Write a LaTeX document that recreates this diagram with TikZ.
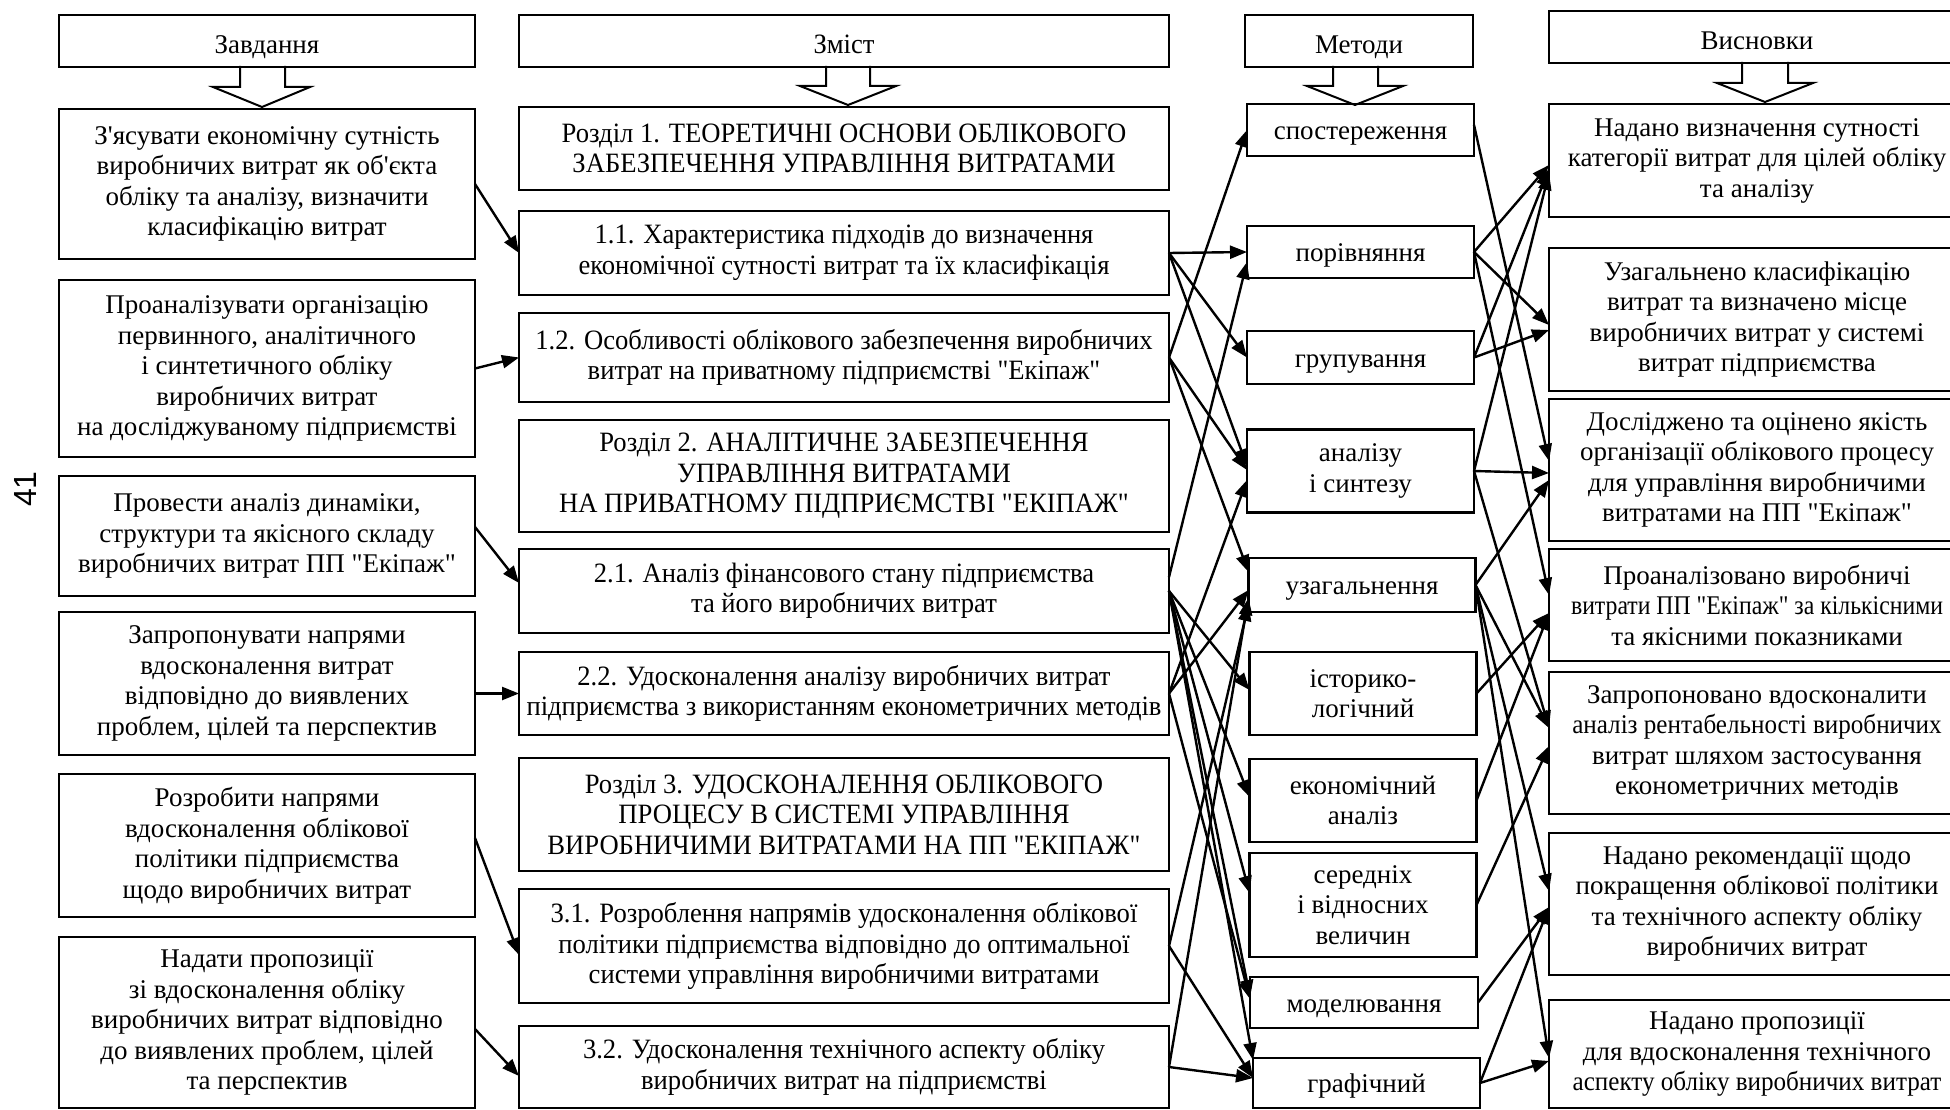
\documentclass[tikz,border=0pt]{standalone}
\usepackage{fontspec}
\setmainfont{Liberation Serif}[Ligatures=TeXOff]
\newfontfamily\condf{Liberation Serif}[FakeStretch=0.95,Ligatures=TeXOff]
\newfontfamily\condg{Liberation Serif}[FakeStretch=0.88,Ligatures=TeXOff]
\newfontfamily\condh{Liberation Serif}[FakeStretch=0.93,Ligatures=TeXOff]
\newfontfamily\numf{Liberation Sans}
\usetikzlibrary{arrows.meta,calc}
\begin{document}
\begin{tikzpicture}[x=1pt,y=-1pt,
  bx/.style={draw,line width=2.2pt,inner sep=0pt,outer sep=0pt,align=center,font=\fontsize{27}{30.5}\selectfont},
  cbx/.style={bx,font=\condf\fontsize{28}{30.5}\selectfont},
  one/.style={text height=23pt,text depth=4pt},
  hdr/.style={text height=26pt,text depth=1pt},
  con/.style={line width=2.4pt,-{Triangle[length=17pt,width=13pt]}},
  hol/.style={draw,line width=2pt,fill=white}]
\useasboundingbox[fill=white] (0,0) rectangle (1950,1110);

% page number
\node[font=\numf\fontsize{32}{32}\selectfont,rotate=90] (pg) at (25,489) {41};

% ---------- left column ----------
\draw[hol] (240,66)--(240,87)--(213,87)--(262,107)--(310,87)--(285,87)--(285,66);
\node[bx,hdr,minimum width=416pt,minimum height=52pt] (hL) at (267,41) {Завдання};
\node[bx,minimum width=416pt,minimum height=150pt] (L1) at (267,184) {З'ясувати економічну сутність\\виробничих витрат як об'єкта\\обліку та аналізу, визначити\\класифікацію витрат};
\node[bx,minimum width=416pt,minimum height=177pt] (L2) at (267,368.5) {Проаналізувати організацію\\первинного, аналітичного\\і синтетичного обліку\\виробничих витрат\\на досліджуваному підприємстві};
\node[bx,minimum width=416pt,minimum height=120pt] (L3) at (267,536) {Провести аналіз динаміки,\\структури та якісного складу\\виробничих витрат ПП "Екіпаж"};
\node[bx,minimum width=416pt,minimum height=143pt] (L4) at (267,683.5) {Запропонувати напрями\\вдосконалення витрат\\відповідно до виявлених\\проблем, цілей та перспектив};
\node[bx,minimum width=416pt,minimum height=143pt] (L5) at (267,845.5) {Розробити напрями\\вдосконалення облікової\\політики підприємства\\щодо виробничих витрат};
\node[bx,minimum width=416pt,minimum height=171pt] (L6) at (267,1022.5) {Надати пропозиції\\зі вдосконалення обліку\\виробничих витрат відповідно\\до виявлених проблем, цілей\\та перспектив};

% ---------- content column ----------
\draw[hol] (826,66)--(826,86)--(800,86)--(848,105)--(896,86)--(870,86)--(870,66);
\node[cbx,hdr,minimum width=650pt,minimum height=52pt] (hC) at (844,41) {Зміст};
\node[cbx,minimum width=650pt,minimum height=83pt] (R1) at (844,148.5) {Розділ 1. ТЕОРЕТИЧНІ ОСНОВИ ОБЛІКОВОГО\\ЗАБЕЗПЕЧЕННЯ УПРАВЛІННЯ ВИТРАТАМИ};
\node[cbx,minimum width=650pt,minimum height=84pt] (c11) at (844,253) {1.1. Характеристика підходів до визначення\\економічної сутності витрат та їх класифікація};
\node[cbx,minimum width=650pt,minimum height=89pt] (c12) at (844,357.5) {1.2. Особливості облікового забезпечення виробничих\\витрат на приватному підприємстві "Екіпаж"};
\node[cbx,minimum width=650pt,minimum height=112pt] (R2) at (844,476) {Розділ 2. АНАЛІТИЧНЕ ЗАБЕЗПЕЧЕННЯ\\УПРАВЛІННЯ ВИТРАТАМИ\\НА ПРИВАТНОМУ ПІДПРИЄМСТВІ "ЕКІПАЖ"};
\node[cbx,minimum width=650pt,minimum height=84pt] (c21) at (844,591) {2.1. Аналіз фінансового стану підприємства\\та його виробничих витрат};
\node[cbx,minimum width=650pt,minimum height=83pt] (c22) at (844,693.5) {2.2. Удосконалення аналізу виробничих витрат\\підприємства з використанням економетричних методів};
\node[cbx,minimum width=650pt,minimum height=113pt] (R3) at (844,814.5) {Розділ 3. УДОСКОНАЛЕННЯ ОБЛІКОВОГО\\ПРОЦЕСУ В СИСТЕМІ УПРАВЛІННЯ\\ВИРОБНИЧИМИ ВИТРАТАМИ НА ПП "ЕКІПАЖ"};
\node[cbx,minimum width=650pt,minimum height=114pt] (c31) at (844,946) {3.1. Розроблення напрямів удосконалення облікової\\політики підприємства відповідно до оптимальної\\системи управління виробничими витратами};
\node[cbx,minimum width=650pt,minimum height=82pt] (c32) at (844,1067) {3.2. Удосконалення технічного аспекту обліку\\виробничих витрат на підприємстві};

% ---------- methods column ----------
\draw[hol] (1333,66)--(1333,86)--(1307,86)--(1355,105)--(1403,86)--(1378,86)--(1378,66);
\node[bx,hdr,minimum width=228pt,minimum height=52pt] (hM) at (1359,41) {Методи};
\node[bx,one,minimum width=227pt,minimum height=52pt] (m1) at (1360.5,130) {спостереження};
\node[bx,one,minimum width=227pt,minimum height=52pt] (m2) at (1360.5,252) {порівняння};
\node[bx,one,minimum width=227pt,minimum height=53pt] (m3) at (1360.5,357.5) {групування};
\node[bx,minimum width=227pt,minimum height=83pt] (m4) at (1360.5,471) {аналізу\\і синтезу};
\node[bx,one,minimum width=227pt,minimum height=54pt] (m5) at (1362,585) {узагальнення};
\node[bx,minimum width=227pt,minimum height=83pt] (m6) at (1363,693.5) {історико-\\логічний};
\node[bx,minimum width=227pt,minimum height=83pt] (m7) at (1363,800.5) {економічний\\аналіз};
\node[bx,minimum width=227pt,minimum height=104pt] (m8) at (1363,905) {середніх\\і відносних\\величин};
\node[bx,one,minimum width=228pt,minimum height=51pt] (m9) at (1364,1002.5) {моделювання};
\node[bx,one,minimum width=227pt,minimum height=50pt] (m10) at (1366.5,1083) {графічний};

% ---------- conclusions column ----------
\draw[hol] (1742,62)--(1742,83)--(1717,83)--(1765,102)--(1813,83)--(1788,83)--(1788,62);
\node[bx,hdr,minimum width=416pt,minimum height=52pt] (hR) at (1757,37) {Висновки};
\node[bx,minimum width=416pt,minimum height=113pt] (C1) at (1757,160.5) {Надано визначення сутності\\категорії витрат для цілей обліку\\та аналізу};
\node[bx,minimum width=416pt,minimum height=143pt] (C2) at (1757,319.5) {Узагальнено класифікацію\\витрат та визначено місце\\виробничих витрат у системі\\витрат підприємства};
\node[bx,minimum width=416pt,minimum height=142pt] (C3) at (1757,470) {Досліджено та оцінено якість\\організації облікового процесу\\для управління виробничими\\витратами на ПП "Екіпаж"};
\node[bx,minimum width=416pt,minimum height=112pt] (C4) at (1757,605) {Проаналізовано виробничі\\{\condg витрати ПП "Екіпаж" за кількісними}\\та якісними показниками};
\node[bx,minimum width=416pt,minimum height=142pt] (C5) at (1757,743) {Запропоновано вдосконалити\\{\condh аналіз рентабельності виробничих}\\витрат шляхом застосування\\економетричних методів};
\node[bx,minimum width=416pt,minimum height=142pt] (C6) at (1757,904) {Надано рекомендації щодо\\покращення облікової політики\\та технічного аспекту обліку\\виробничих витрат};
\node[bx,minimum width=416pt,minimum height=108pt] (C7) at (1757,1054) {Надано пропозиції\\для вдосконалення технічного\\{\condh аспекту обліку виробничих витрат}};

% ---------- tasks -> content ----------
\draw[con] (L1.east) -- (c11.west);
\draw[con] (L2.east) -- (c12.west);
\draw[con] (L3.east |- 0,527) -- (c21.west |- 0,583);
\draw[con] (L4.east |- c22.west) -- (c22.west);
\draw[con] (L5.east |- 0,838) -- (c31.west |- 0,955);
\draw[con] (L6.east |- 0,1029) -- (c32.west |- 0,1076);

% ---------- content -> methods ----------
\draw[con] (c11.east) -- (m2.west);
\draw[con] (c11.east) -- (m3.west);
\draw[con] (c11.east) -- (m4.west |- 0,466);
\draw[con] (c12.east) -- (m1.west);
\draw[con] (c12.east) -- (m4.west |- 0,470);
\draw[con] (c12.east) -- (m5.west |- 0,572);
\draw[con] (c21.east |- 0,577) -- (m2.west |- 0,262);
\draw[con] (c21.east) -- (m6.west |- 0,690);
\draw[con] (c21.east) -- (m7.west |- 0,797);
\draw[con] (c21.east) -- (m8.west |- 0,893);
\draw[con] (c21.east) -- (m9.west |- 0,997);
\draw[con] (c21.east) -- (m10.west |- 0,1060);
\draw[con] (c22.east) -- (m4.west |- 0,480);
\draw[con] (c22.east) -- (m5.west |- 0,590);
\draw[con] (c22.east) -- (m9.west |- 0,999);
\draw[con] (c31.east) -- (m5.west |- 0,604);
\draw[con] (c31.east) -- (m10.west |- 0,1078);
\draw[con] (c32.east) -- (m5.west |- 0,598);
\draw[con] (c32.east) -- (m10.west |- 0,1078);

% ---------- methods -> conclusions ----------
\draw[con] (m1.east |- 0,125) -- (C3.west |- 0,461);
\draw[con] (m2.east) -- (C1.west |- 0,165);
\draw[con] (m2.east) -- (C2.west |- 0,325);
\draw[con] (m2.east) -- (C4.west |- 0,595);
\draw[con] (m3.east) -- (C1.west |- 0,169);
\draw[con] (m3.east) -- (C2.west |- 0,330);
\draw[con] (m4.east) -- (C1.west |- 0,173);
\draw[con] (m4.east) -- (C3.west |- 0,473);
\draw[con] (m4.east) -- (C5.west |- 0,728);
\draw[con] (m5.east) -- (C3.west |- 0,480);
\draw[con] (m5.east) -- (C5.west |- 0,728);
\draw[con] (m5.east) -- (C6.west |- 0,891);
\draw[con] (m5.east) -- (C7.west |- 0,1058);
\draw[con] (m6.east) -- (C4.west |- 0,613);
\draw[con] (m7.east) -- (C4.west |- 0,613);
\draw[con] (m8.east) -- (C5.west |- 0,746);
\draw[con] (m9.east) -- (C6.west |- 0,907);
\draw[con] (m10.east) -- (C6.west |- 0,907);
\draw[con] (m10.east) -- (C7.west |- 0,1061);
\end{tikzpicture}
\end{document}
